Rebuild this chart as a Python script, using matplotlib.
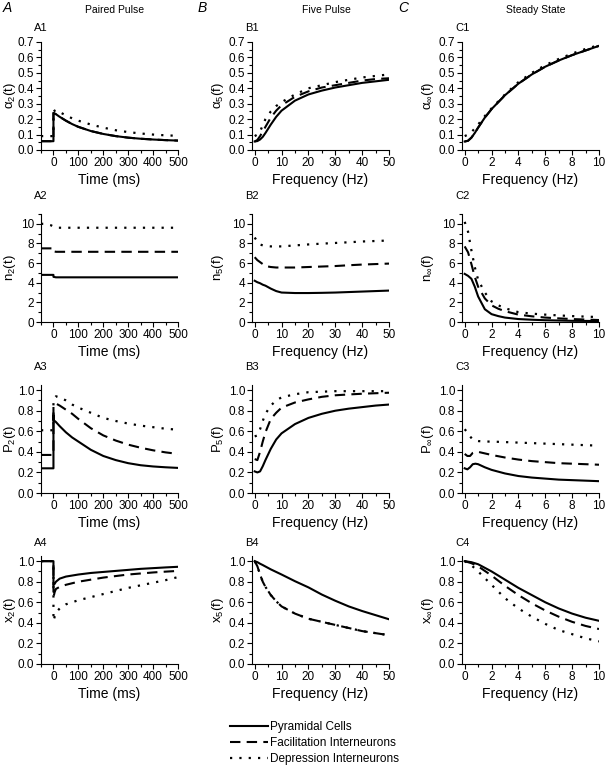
import numpy as np
import matplotlib.pyplot as plt
from matplotlib.ticker import MultipleLocator
from matplotlib.lines import Line2D

plt.rcParams['font.family'] = ['Liberation Sans', 'DejaVu Sans']
plt.rcParams['mathtext.default'] = 'regular'

# ---- data ----
# column A: paired pulse, time (ms)
a1_sol_t = [-50, -0.01, 0, 10, 25, 50, 75, 100, 150, 200, 250, 300, 350, 400, 450, 500]
a1_sol = [0.057, 0.057, 0.24, 0.232, 0.215, 0.19, 0.168, 0.15, 0.123, 0.104, 0.09, 0.08, 0.073, 0.068, 0.064, 0.061]
a1_das = [0.057, 0.057, 0.24, 0.232, 0.215, 0.19, 0.168, 0.15, 0.123, 0.104, 0.09, 0.08, 0.073, 0.068, 0.064, 0.061]
a1_dot_t = [-50, -0.01, 0, 10, 25, 50, 75, 100, 150, 200, 250, 300, 350, 400, 450, 500]
a1_dot = [0.09, 0.09, 0.25, 0.26, 0.245, 0.225, 0.205, 0.19, 0.165, 0.145, 0.128, 0.116, 0.107, 0.1, 0.095, 0.092]

a2_t = [-50, -0.01, 0, 10, 100, 200, 300, 400, 500]
a2_sol = [4.8, 4.8, 4.6, 4.55, 4.55, 4.55, 4.55, 4.55, 4.55]
a2_das = [7.5, 7.5, 7.2, 7.15, 7.15, 7.15, 7.15, 7.15, 7.15]
a2_dot_t = [-50, -30, -10, 10, 30, 100, 200, 300, 400, 500]
a2_dot = [10.0, 10.0, 9.85, 9.6, 9.6, 9.6, 9.6, 9.6, 9.6, 9.6]

a3_t = [-50, -0.01, 0, 0.01, 10, 25, 50, 75, 100, 150, 200, 250, 300, 350, 400, 450, 500]
a3_sol = [0.24, 0.24, 0.76, 0.71, 0.69, 0.65, 0.59, 0.54, 0.5, 0.42, 0.36, 0.32, 0.29, 0.27, 0.258, 0.25, 0.244]
a3_das = [0.37, 0.37, 0.8, 0.86, 0.87, 0.85, 0.81, 0.77, 0.72, 0.63, 0.56, 0.51, 0.47, 0.44, 0.415, 0.395, 0.38]
a3_dot = [0.61, 0.61, 0.86, 0.91, 0.94, 0.93, 0.9, 0.86, 0.83, 0.78, 0.73, 0.7, 0.675, 0.655, 0.64, 0.625, 0.615]

a4_t = [-50, -0.01, 0, 5, 10, 25, 50, 75, 100, 150, 200, 250, 300, 350, 400, 450, 500]
a4_sol = [1.0, 1.0, 0.77, 0.78, 0.8, 0.83, 0.85, 0.86, 0.87, 0.885, 0.895, 0.905, 0.915, 0.925, 0.932, 0.939, 0.945]
a4_das = [1.0, 1.0, 0.65, 0.7, 0.73, 0.75, 0.77, 0.785, 0.8, 0.82, 0.84, 0.855, 0.87, 0.88, 0.89, 0.898, 0.905]
a4_dot = [1.0, 1.0, 0.42, 0.46, 0.5, 0.54, 0.58, 0.6, 0.62, 0.65, 0.68, 0.71, 0.74, 0.765, 0.79, 0.815, 0.845]

# column B: five pulse, frequency (Hz)
b_f = [0, 1, 2, 3, 4, 6, 8, 10, 15, 20, 25, 30, 35, 40, 45, 50]
b1_sol = [0.055, 0.058, 0.068, 0.085, 0.11, 0.165, 0.215, 0.255, 0.32, 0.36, 0.385, 0.405, 0.42, 0.435, 0.445, 0.455]
b1_das = [0.055, 0.065, 0.09, 0.12, 0.15, 0.21, 0.255, 0.29, 0.345, 0.38, 0.405, 0.42, 0.435, 0.45, 0.46, 0.465]
b1_dot = [0.09, 0.1, 0.12, 0.16, 0.2, 0.25, 0.285, 0.31, 0.36, 0.4, 0.42, 0.44, 0.455, 0.47, 0.48, 0.49]

b2_sol = [4.2, 4.05, 3.95, 3.8, 3.7, 3.4, 3.15, 3.0, 2.95, 2.95, 2.97, 3.0, 3.05, 3.1, 3.15, 3.2]
b2_das = [6.6, 6.3, 6.1, 5.9, 5.7, 5.6, 5.55, 5.55, 5.55, 5.6, 5.65, 5.7, 5.78, 5.85, 5.9, 5.95]
b2_dot = [8.6, 8.2, 7.9, 7.8, 7.75, 7.7, 7.7, 7.7, 7.8, 7.9, 7.98, 8.05, 8.12, 8.2, 8.25, 8.3]

b3_sol = [0.21, 0.2, 0.21, 0.26, 0.32, 0.43, 0.52, 0.58, 0.67, 0.73, 0.77, 0.8, 0.82, 0.835, 0.85, 0.86]
b3_das = [0.33, 0.32, 0.4, 0.5, 0.59, 0.72, 0.78, 0.83, 0.88, 0.91, 0.935, 0.95, 0.958, 0.965, 0.97, 0.975]
b3_dot = [0.55, 0.56, 0.62, 0.7, 0.77, 0.85, 0.9, 0.93, 0.96, 0.98, 0.985, 0.99, 0.99, 0.99, 0.99, 0.99]

b4_sol = [1.0, 0.99, 0.975, 0.962, 0.948, 0.92, 0.895, 0.87, 0.805, 0.745, 0.675, 0.615, 0.56, 0.515, 0.475, 0.435]
b4_das = [1.0, 0.95, 0.87, 0.8, 0.75, 0.67, 0.61, 0.56, 0.49, 0.44, 0.41, 0.38, 0.35, 0.32, 0.3, 0.28]
b4_dot = [1.0, 0.95, 0.87, 0.8, 0.75, 0.67, 0.61, 0.56, 0.49, 0.44, 0.41, 0.38, 0.35, 0.32, 0.3, 0.28]

# column C: steady state, frequency (Hz)
c_f = [0, 0.25, 0.5, 0.75, 1, 1.5, 2, 2.5, 3, 4, 5, 6, 7, 8, 9, 10]
c1_sol = [0.055, 0.06, 0.08, 0.11, 0.145, 0.21, 0.265, 0.31, 0.355, 0.43, 0.49, 0.54, 0.58, 0.615, 0.645, 0.675]
c1_das = [0.055, 0.06, 0.08, 0.11, 0.145, 0.21, 0.265, 0.31, 0.355, 0.43, 0.49, 0.54, 0.58, 0.615, 0.645, 0.675]
c1_dot = [0.09, 0.1, 0.115, 0.14, 0.165, 0.22, 0.27, 0.315, 0.36, 0.44, 0.5, 0.55, 0.59, 0.625, 0.655, 0.68]

c2_sol = [4.9, 4.7, 4.4, 3.6, 2.6, 1.3, 0.8, 0.6, 0.45, 0.3, 0.23, 0.18, 0.15, 0.12, 0.11, 0.1]
c2_das = [7.7, 7.1, 5.9, 4.6, 3.6, 2.4, 1.7, 1.35, 1.1, 0.75, 0.58, 0.45, 0.37, 0.3, 0.25, 0.2]
c2_dot = [10.2, 9.2, 7.3, 5.6, 4.3, 3.0, 2.1, 1.7, 1.4, 1.0, 0.85, 0.75, 0.67, 0.6, 0.55, 0.5]

c3_f = [0, 0.2, 0.4, 0.6, 0.8, 1, 1.5, 2, 3, 4, 5, 6, 7, 8, 9, 10]
c3_sol = [0.24, 0.23, 0.25, 0.28, 0.285, 0.28, 0.25, 0.225, 0.19, 0.165, 0.15, 0.14, 0.13, 0.125, 0.12, 0.115]
c3_das = [0.38, 0.36, 0.36, 0.39, 0.4, 0.4, 0.385, 0.37, 0.345, 0.325, 0.31, 0.3, 0.29, 0.285, 0.28, 0.275]
c3_dot = [0.62, 0.59, 0.55, 0.52, 0.51, 0.505, 0.5, 0.5, 0.495, 0.49, 0.485, 0.48, 0.475, 0.47, 0.465, 0.46]

c4_f = [0, 0.5, 1, 2, 3, 4, 5, 6, 7, 8, 9, 10]
c4_sol = [1.0, 0.99, 0.97, 0.9, 0.82, 0.74, 0.67, 0.6, 0.54, 0.49, 0.45, 0.42]
c4_das = [1.0, 0.98, 0.95, 0.86, 0.76, 0.67, 0.59, 0.52, 0.46, 0.41, 0.37, 0.34]
c4_dot = [1.0, 0.96, 0.9, 0.77, 0.64, 0.54, 0.46, 0.39, 0.33, 0.29, 0.25, 0.22]

legend_labels = ['Pyramidal Cells', 'Facilitation Interneurons', 'Depression Interneurons']
col_titles = ['Paired Pulse', 'Five Pulse', 'Steady State']

# ---- figure ----
W, H = 605, 765
fig = plt.figure(figsize=(W / 100, H / 100), dpi=100)

SOL = dict(color='black', lw=1.5, linestyle='-')
DAS = dict(color='black', lw=1.5, linestyle=(0, (5, 3)))
DOT = dict(color='black', lw=1.6, linestyle=(0, (1, 3.2)))

lefts = [41, 252, 462]
tops = [42, 214, 385, 556]
aw, ah = 137, 108

panels = [
    # (row, col, x lists, ydata, ylabel, ylim, ymajor, yminor)
    (0, 0, (a1_sol_t, a1_sol_t, a1_dot_t), (a1_sol, a1_das, a1_dot), r'$\alpha_2(t)$', (0, 0.7), 0.1, 0.05),
    (1, 0, (a2_t, a2_t, a2_dot_t), (a2_sol, a2_das, a2_dot), r'$n_2(t)$', (0, 11), 2, 1),
    (2, 0, (a3_t, a3_t, a3_t), (a3_sol, a3_das, a3_dot), r'$P_2(t)$', (0, 1.05), 0.2, 0.1),
    (3, 0, (a4_t, a4_t, a4_t), (a4_sol, a4_das, a4_dot), r'$x_2(t)$', (0, 1.05), 0.2, 0.1),
    (0, 1, (b_f, b_f, b_f), (b1_sol, b1_das, b1_dot), r'$\alpha_5(f)$', (0, 0.7), 0.1, 0.05),
    (1, 1, (b_f, b_f, b_f), (b2_sol, b2_das, b2_dot), r'$n_5(f)$', (0, 11), 2, 1),
    (2, 1, (b_f, b_f, b_f), (b3_sol, b3_das, b3_dot), r'$P_5(f)$', (0, 1.05), 0.2, 0.1),
    (3, 1, (b_f, b_f, b_f), (b4_sol, b4_das, b4_dot), r'$x_5(f)$', (0, 1.05), 0.2, 0.1),
    (0, 2, (c_f, c_f, c_f), (c1_sol, c1_das, c1_dot), r'$\alpha_\infty(f)$', (0, 0.7), 0.1, 0.05),
    (1, 2, (c_f, c_f, c_f), (c2_sol, c2_das, c2_dot), r'$n_\infty(f)$', (0, 11), 2, 1),
    (2, 2, (c3_f, c3_f, c3_f), (c3_sol, c3_das, c3_dot), r'$P_\infty(f)$', (0, 1.05), 0.2, 0.1),
    (3, 2, (c4_f, c4_f, c4_f), (c4_sol, c4_das, c4_dot), r'$x_\infty(f)$', (0, 1.05), 0.2, 0.1),
]

xsets = [((-50, 500), 100, 50, 'Time (ms)'),
         ((-1, 50), 10, 5, 'Frequency (Hz)'),
         ((-0.2, 10), 2, 1, 'Frequency (Hz)')]
label_dy = [14, 18, 18, 13]
ylab_x = [-0.165, -0.19, -0.19]

for row, col, xs, ys, ylab, ylim, ymaj, ymin in panels:
    l, t = lefts[col], tops[row]
    ax = fig.add_axes([l / W, 1 - (t + ah) / H, aw / W, ah / H])
    for x, y, st in zip(xs, ys, (SOL, DAS, DOT)):
        ax.plot(x, y, **st)
    xlim, xmaj, xmin, xlab = xsets[col]
    ax.set_xlim(*xlim)
    ax.set_ylim(*ylim)
    ax.xaxis.set_major_locator(MultipleLocator(xmaj))
    ax.xaxis.set_minor_locator(MultipleLocator(xmin))
    ax.yaxis.set_major_locator(MultipleLocator(ymaj))
    ax.yaxis.set_minor_locator(MultipleLocator(ymin))
    if ymaj < 1:
        ax.yaxis.set_major_formatter(plt.FormatStrFormatter('%.1f'))
    ax.spines['top'].set_visible(False)
    ax.spines['right'].set_visible(False)
    ax.tick_params(which='both', direction='out', labelsize=8.5, width=0.8)
    ax.tick_params(which='major', length=3.5, pad=1.5)
    ax.tick_params(which='minor', length=2)
    ax.set_xlabel(xlab, fontsize=10, labelpad=3)
    ax.set_ylabel(ylab, fontsize=9.5)
    ax.yaxis.set_label_coords(ylab_x[col], 0.5)
    fig.text((l - 7) / W, 1 - (t - label_dy[row]) / H, 'ABC'[col] + str(row + 1),
             fontsize=8, ha='left', va='center')

col_letter_x = [3, 198, 398]
for col, title in enumerate(col_titles):
    fig.text(col_letter_x[col] / W, 1 - 8 / H, 'ABC'[col], fontsize=10,
             style='italic', ha='left', va='center')
    fig.text((lefts[col] + 74) / W, 1 - 10 / H, title, fontsize=7.5,
             ha='center', va='center')

handles = [Line2D([], [], **SOL), Line2D([], [], **DAS), Line2D([], [], **DOT)]
fig.legend(handles, legend_labels, loc='upper left',
           bbox_to_anchor=(224 / W, 1 - 715 / H), frameon=False,
           fontsize=8.5, handlelength=3.2, handletextpad=0.2,
           labelspacing=0.35, borderpad=0)

fig.savefig('out.png', dpi=100)
